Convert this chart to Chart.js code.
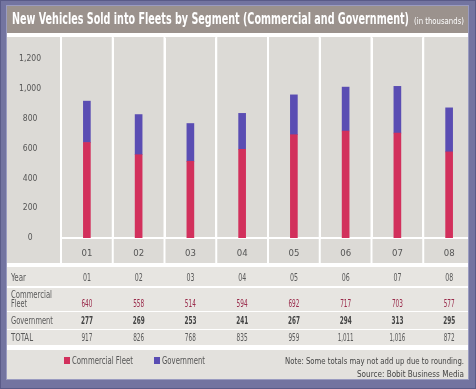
<!DOCTYPE html>
<html><head><meta charset="utf-8">
<script src="https://cdn.jsdelivr.net/npm/chart.js@4.4.0/dist/chart.umd.min.js"></script>
<style>html,body{margin:0;padding:0;background:#7374a0;}canvas{display:block}</style>
</head><body>
<canvas id="c" width="476" height="389"></canvas>
<script>
const years = ['01','02','03','04','05','06','07','08'];
const commercial = [640,558,514,594,692,717,703,577];
const government = [277,269,253,241,267,294,313,295];
const totals = ['917','826','768','835','959','1,011','1,016','872'];
const yTicks = [0,200,400,600,800,1000,1200];
const titleText = 'New Vehicles Sold into Fleets by Segment (Commercial and Government)';
const unitText = '(in thousands)';
const seriesNames = ['Commercial Fleet','Government'];
const noteText = 'Note: Some totals may not add up due to rounding.';
const sourceText = 'Source: Bobit Business Media';

const COND = '"Liberation Sans Narrow","DejaVu Sans Condensed",sans-serif';
const RED = '#d2305c', BLUE = '#5a4db3';

function fitText(ctx, text, x, y, w) {
  const m = ctx.measureText(text).width;
  if (m > w) ctx.fillText(text, x, y, w); else ctx.fillText(text, x, y);
}

const framePlugin = {
  id: 'frame',
  beforeDraw(chart) {
    const ctx = chart.ctx;
    ctx.save();
    ctx.fillStyle = '#7374a0'; ctx.fillRect(0,0,476,389);
    ctx.fillStyle = '#ffffff'; ctx.fillRect(7,6,462,373);
    ctx.fillStyle = '#9b928d'; ctx.fillRect(7,6,462,27);
    ctx.fillStyle = '#dcdad6'; ctx.fillRect(7,37,462,226);
    ctx.fillStyle = '#e7e5e1';
    [[267,19],[288,23],[312,17],[330,15]].forEach(r => ctx.fillRect(7,r[0],462,r[1]));
    ctx.fillStyle = '#e3e1dd'; ctx.fillRect(7,350,462,29);
    ctx.restore();
  },
  afterDraw(chart) {
    const ctx = chart.ctx, xs = chart.scales.x;
    const step = xs.getPixelForValue(1) - xs.getPixelForValue(0);
    ctx.save();
    ctx.strokeStyle = '#ffffff'; ctx.lineWidth = 2;
    for (let i = 0; i <= years.length; i++) {
      const x = xs.getPixelForValue(0) - step/2 + i*step;
      ctx.beginPath(); ctx.moveTo(x, 36); ctx.lineTo(x, 263); ctx.stroke();
    }
    ctx.fillStyle = '#ffffff';
    ctx.textBaseline = 'alphabetic'; ctx.textAlign = 'left';
    ctx.font = 'bold 15px ' + COND;
    fitText(ctx, titleText, 12, 24, 397);
    ctx.font = '8px ' + COND;
    fitText(ctx, unitText, 414, 24, 50);
    ctx.font = '10px ' + COND;
    ctx.fillStyle = '#5a5a5a';
    fitText(ctx, 'Year', 11, 281, 15);
    fitText(ctx, 'Commercial', 11, 298, 41);
    fitText(ctx, 'Fleet', 11, 307, 16);
    fitText(ctx, 'Government', 11, 324, 42);
    fitText(ctx, 'TOTAL', 11, 341, 22);
    ctx.textAlign = 'center';
    years.forEach((y, i) => {
      const x = xs.getPixelForValue(i);
      ctx.font = '10px ' + COND;
      ctx.fillStyle = '#5a5a5a'; fitText(ctx, y, x, 281, 8);
      ctx.fillStyle = '#9a2b4b'; fitText(ctx, String(commercial[i]), x, 307, 11);
      ctx.font = 'bold 10px ' + COND;
      ctx.fillStyle = '#444444'; fitText(ctx, String(government[i]), x, 324, 12);
      ctx.font = '10px ' + COND;
      ctx.fillStyle = '#5a5a5a'; fitText(ctx, totals[i], x, 341, totals[i].length > 3 ? 16 : 11);
    });
    ctx.textAlign = 'left';
    ctx.fillStyle = RED; ctx.fillRect(64,357,6,7);
    ctx.fillStyle = BLUE; ctx.fillRect(154,357,6,7);
    ctx.font = '10px ' + COND; ctx.fillStyle = '#555555';
    fitText(ctx, seriesNames[0], 72, 364, 61);
    fitText(ctx, seriesNames[1], 162, 364, 43);
    ctx.textAlign = 'right'; ctx.font = '9.5px ' + COND; ctx.fillStyle = '#444444';
    fitText(ctx, noteText, 464, 364, 179);
    fitText(ctx, sourceText, 464, 377, 107);
    ctx.fillStyle = '#7374a0';
    ctx.fillRect(468,0,8,389); ctx.fillRect(0,379,476,10);
    ctx.fillRect(0,0,7,389); ctx.fillRect(0,0,476,6);
    ctx.strokeStyle = '#9a9bc0'; ctx.lineWidth = 1;
    ctx.strokeRect(6.5,5.5,462,374);
    ctx.strokeStyle = '#5a5b88';
    ctx.strokeRect(0.5,0.5,475,388);
    ctx.restore();
  }
};

new Chart(document.getElementById('c'), {
  type: 'bar',
  data: {
    labels: years,
    datasets: [
      {label: seriesNames[0], data: commercial, backgroundColor: RED, barThickness: 7},
      {label: seriesNames[1], data: government, backgroundColor: BLUE, barThickness: 7}
    ]
  },
  options: {
    responsive: false, animation: false,
    layout: {padding: {left: 7, top: 38, right: 1, bottom: 126}},
    plugins: {legend: {display: false}, title: {display: false}, tooltip: {enabled: false}},
    scales: {
      x: {
        stacked: true, offset: true,
        grid: {color: '#ffffff', lineWidth: 2, drawTicks: false, offset: true},
        border: {display: true, color: '#ffffff', width: 2},
        ticks: {color: '#555555', font: {family: COND, size: 9.5}, padding: 10, maxRotation: 0},
        afterFit(s) { s.height = 25; }
      },
      y: {
        stacked: true, min: 0, max: 1340,
        grid: {display: false, drawTicks: false},
        border: {display: false},
        afterBuildTicks(s) { s.ticks = yTicks.map(v => ({value: v})); },
        ticks: {
          color: '#555555', font: {family: COND, size: 8.5}, padding: 20, crossAlign: 'center',
          callback: v => v.toLocaleString('en-US')
        },
        afterFit(s) { s.width = 54; }
      }
    }
  },
  plugins: [framePlugin]
});
</script>
</body></html>
